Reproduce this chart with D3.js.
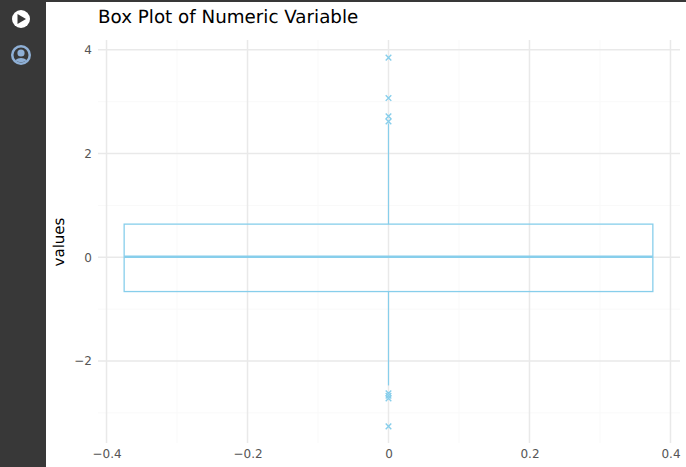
<!DOCTYPE html>
<html>
<head>
<meta charset="utf-8">
<title>Box Plot of Numeric Variable</title>
<script src="https://cdn.jsdelivr.net/npm/d3@7"></script>
<style>
    html, body { margin: 0; padding: 0; background: #fff; overflow: hidden; }
    text { font-family: "DejaVu Sans", sans-serif; text-rendering: geometricPrecision; }
</style>
</head>
<body>
<svg id="chart" width="686" height="467"></svg>
<script>
    var xTicks = [-0.4, -0.2, 0, 0.2, 0.4];
    var yTicks = [-2, 0, 2, 4];
    var xMinor = [-0.3, -0.1, 0.1, 0.3];
    var yMinor = [-3, -1, 1, 3];
    var boxEdges = [-0.375, 0.375];
    var quartiles = [-0.66, 0.01, 0.64];
    var whiskers = [-2.47, 2.58];
    var outliers = [3.85, 3.07, 2.72, 2.62, -2.62, -2.67, -2.72, -3.26];

    var boxColor = "#87ceeb";
    var svg = d3.select("#chart");

    var x = d3.scaleLinear().domain([-0.4128, 0.4128]).range([97.5, 679.5]);
    var y = d3.scaleLinear().domain([-3.58, 4.19]).range([443, 40]);

    // sidebar
    svg.append("rect").attr("width", 686).attr("height", 2).attr("fill", "#383838");
    svg.append("rect").attr("width", 46).attr("height", 467).attr("fill", "#383838");

    var play = svg.append("g").attr("transform", "translate(21,19)");
    play.append("circle").attr("r", 9).attr("fill", "#fff");
    play.append("path").attr("d", d3.line()([[-3.5, -5], [5, 0], [-3.5, 5]]) + "Z").attr("fill", "#383838");

    var user = svg.append("g").attr("transform", "translate(21,55)");
    user.append("circle").attr("r", 10).attr("fill", "#8fb0d6");
    user.append("circle").attr("r", 7.5).attr("fill", "#383838");
    user.append("circle").attr("cy", -2).attr("r", 3.6).attr("fill", "#8fb0d6");
    user.append("path").attr("d", "M-6,5.2 Q0,0.8 6,5.2 Q0,9.5 -6,5.2Z").attr("fill", "#8fb0d6");

    // grid
    var grid = svg.append("g");
    grid.selectAll(".xm").data(xMinor).join("line")
        .attr("x1", d => x(d)).attr("x2", d => x(d)).attr("y1", 40).attr("y2", 443)
        .attr("stroke", "#f9f9f9").attr("stroke-width", 1);
    grid.selectAll(".ym").data(yMinor).join("line")
        .attr("x1", 98).attr("x2", 680).attr("y1", d => y(d)).attr("y2", d => y(d))
        .attr("stroke", "#f9f9f9").attr("stroke-width", 1);
    grid.selectAll(".xg").data(xTicks).join("line")
        .attr("x1", d => x(d)).attr("x2", d => x(d)).attr("y1", 40).attr("y2", 443)
        .attr("stroke", "#e9e9e9").attr("stroke-width", 1.5);
    grid.selectAll(".yg").data(yTicks).join("line")
        .attr("x1", 98).attr("x2", 680).attr("y1", d => y(d)).attr("y2", d => y(d))
        .attr("stroke", "#e9e9e9").attr("stroke-width", 1.5);

    // axes
    var xAxis = svg.append("g").attr("transform", "translate(0,444)")
        .call(d3.axisBottom(x).tickValues(xTicks).tickSize(0).tickPadding(5).tickFormat(d3.format(".1f")));
    xAxis.selectAll("text").text(d => d === 0 ? "0" : d3.format(".1f")(d));
    var yAxis = svg.append("g").attr("transform", "translate(98,0)")
        .call(d3.axisLeft(y).tickValues(yTicks).tickSize(0).tickPadding(6).tickFormat(d3.format("d")));
    svg.selectAll(".domain").remove();
    svg.selectAll(".tick text").attr("fill", "#555").style("font-size", "12px")
        .style("font-family", '"DejaVu Sans", sans-serif');

    // box
    var box = svg.append("g").attr("fill", "none").attr("stroke", boxColor);
    box.append("rect")
        .attr("x", x(boxEdges[0])).attr("width", x(boxEdges[1]) - x(boxEdges[0]))
        .attr("y", y(quartiles[2])).attr("height", y(quartiles[0]) - y(quartiles[2]))
        .attr("stroke-width", 1.3);
    box.append("line")
        .attr("x1", x(boxEdges[0])).attr("x2", x(boxEdges[1]))
        .attr("y1", y(quartiles[1])).attr("y2", y(quartiles[1]))
        .attr("stroke-width", 2.5);
    box.append("line").attr("x1", x(0)).attr("x2", x(0))
        .attr("y1", y(quartiles[2])).attr("y2", y(whiskers[1])).attr("stroke-width", 1.2);
    box.append("line").attr("x1", x(0)).attr("x2", x(0))
        .attr("y1", y(quartiles[0])).attr("y2", y(whiskers[0])).attr("stroke-width", 1.2);

    // outliers
    svg.append("g").selectAll("path").data(outliers).join("path")
        .attr("transform", d => "translate(" + x(0) + "," + y(d) + ")")
        .attr("d", d3.symbol(d3.symbolTimes, 22))
        .attr("fill", "none").attr("stroke", boxColor).attr("stroke-width", 1.4);

    // titles
    svg.append("text").attr("x", 98).attr("y", 23).attr("font-size", 18.3).attr("fill", "#000")
        .text("Box Plot of Numeric Variable");
    svg.append("text").attr("transform", "translate(64,242) rotate(-90)")
        .attr("text-anchor", "middle").attr("font-size", 15).attr("fill", "#000")
        .text("values");
</script>
</body>
</html>
